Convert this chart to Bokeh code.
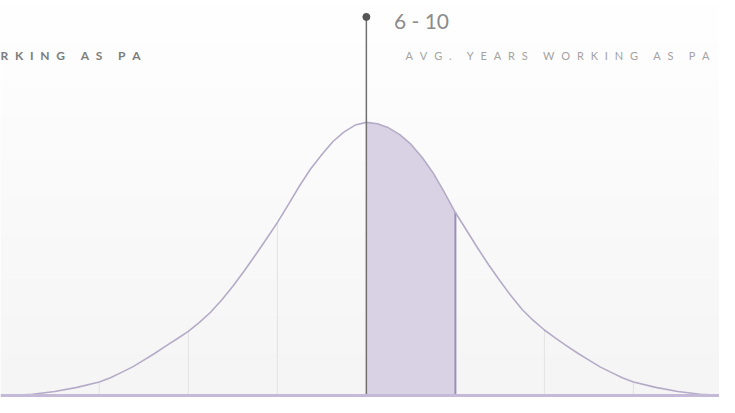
import numpy as np
from bokeh.plotting import figure
from bokeh.models import Range1d, Span
from bokeh.core.properties import value
from bokeh.embed import file_html
from bokeh.resources import INLINE

# ---- data ----
# x in bin steps (0 = mean), y = relative density (peak = 1)
curve_x = [-4.0, -3.75, -3.5, -3.25, -3.0, -2.875, -2.75, -2.625, -2.5, -2.375, -2.25,
           -2.125, -2.0, -1.875, -1.75, -1.625, -1.5, -1.375, -1.25, -1.125, -1.0,
           -0.875, -0.75, -0.625, -0.5, -0.375, -0.25, -0.125, 0.0, 0.125, 0.25, 0.375,
           0.5, 0.625, 0.75, 0.875, 1.0, 1.125, 1.25, 1.375, 1.5, 1.625, 1.75, 1.875,
           2.0, 2.125, 2.25, 2.375, 2.5, 2.625, 2.75, 2.875, 3.0, 3.25, 3.5, 3.75, 4.0]
curve_y = [0.0, 0.005, 0.015, 0.03, 0.05, 0.065, 0.085, 0.105, 0.13, 0.155, 0.182,
           0.208, 0.235, 0.268, 0.305, 0.35, 0.40, 0.455, 0.513, 0.572, 0.633,
           0.70, 0.768, 0.83, 0.882, 0.93, 0.965, 0.99, 1.0, 0.995, 0.98, 0.955,
           0.92, 0.872, 0.815, 0.745, 0.67, 0.605, 0.54, 0.478, 0.42, 0.365, 0.315, 0.275,
           0.24, 0.21, 0.182, 0.155, 0.13, 0.105, 0.085, 0.065, 0.05, 0.03, 0.015, 0.005, 0.0]
grid_x = [-3, -2, -1, 2, 3]
highlight_bin = [0, 1]
highlight_label = "6 - 10"
caption = "AVG. YEARS WORKING AS PA"
caption_left = "RKING AS PA"

W, H = 719, 397
x0, x1 = -4.11, 3.967
y0, y1 = -0.007, 1.446

p = figure(width=W, height=H, output_backend="svg", toolbar_location=None,
           x_range=Range1d(x0, x1), y_range=Range1d(y0, y1),
           min_border=0, outline_line_color=None)
p.axis.visible = False
p.grid.visible = False
p.background_fill_color = "#ffffff"
p.border_fill_color = "#ffffff"

# background gradient (white at top to light grey at bottom)
n = 64
t = np.linspace(0, 1, n)
img = np.zeros((n, 1), dtype=np.uint32)
view = img.view(dtype=np.uint8).reshape((n, 1, 4))
shade = (245 + 10 * t).astype(np.uint8)  # row 0 = bottom
view[:, 0, 0] = shade
view[:, 0, 1] = shade
view[:, 0, 2] = shade
view[:, 0, 3] = 255
p.image_rgba(image=[img], x=x0, y=y0, dw=x1 - x0, dh=y1 - y0)

cx = np.array(curve_x)
cy = np.array(curve_y)

def at(x):
    return float(cy[np.argmin(np.abs(cx - x))])

# grid lines from base to curve
p.segment(x0=grid_x, y0=[0] * len(grid_x), x1=grid_x, y1=[at(g) for g in grid_x],
          line_color="#e3e3e3", line_width=1)

# highlighted bin
lo, hi = highlight_bin
mask = (cx >= lo) & (cx <= hi)
p.varea(x=cx[mask], y1=np.zeros(mask.sum()), y2=cy[mask], fill_color="#d9d1e4")
p.segment(x0=[hi], y0=[0], x1=[hi], y1=[at(hi)], line_color="#9b8fb6", line_width=2)

# curve
p.line(cx, cy, line_color="#b4abc6", line_width=1.6, line_join="round")

# baseline
p.add_layout(Span(location=0, dimension="width", line_color="#c4bad8", line_width=3))

# marker line and dot
top = 1.386
p.segment(x0=[lo], y0=[0], x1=[lo], y1=[top], line_color="#707070", line_width=1.5)
p.scatter([lo], [top], size=7, color="#555555")

# labels
p.text([lo + 0.31], [1.372], text=[highlight_label], text_font=value("Lato"),
       text_font_size="21px", text_color="#8c8c8c", text_baseline="middle")

def spaced(s, sep):
    return sep.join(s).replace(sep + " " + sep, sep + "\u2003")

p.text([lo + 0.44], [1.245], text=[spaced(caption, "\u2002\u200a\u200a")],
       text_font=value("Lato"), text_font_size="11px", text_color="#a3a3a3",
       text_baseline="middle")
p.text([x0], [1.245], text=[spaced(caption_left, "\u2002\u200a")], text_font=value("Lato"),
       text_font_size="12px", text_font_style="bold", text_color="#7c7c7c",
       text_baseline="middle", text_align="left")

open("out.html", "w").write(file_html(p, INLINE))
